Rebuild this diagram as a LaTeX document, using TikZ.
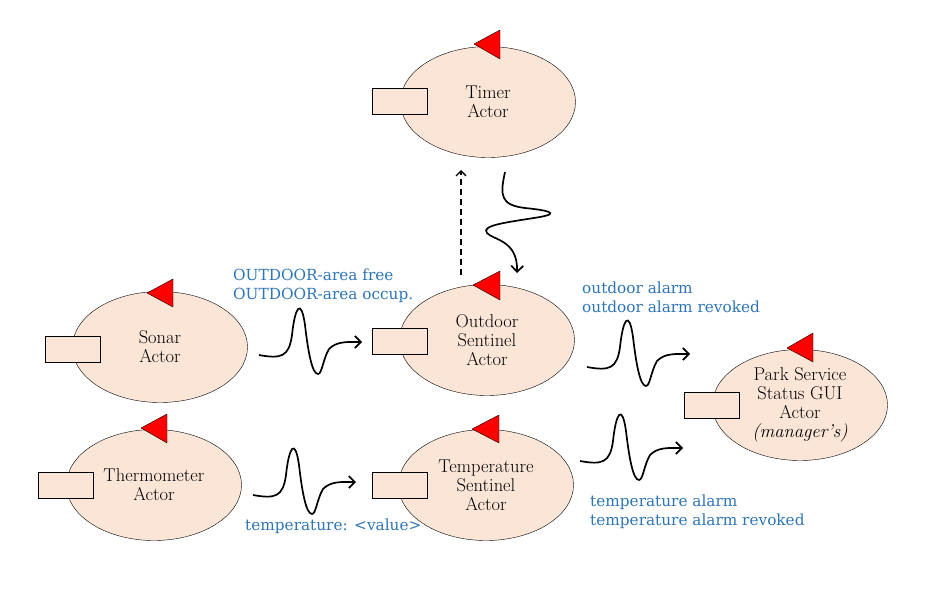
\documentclass[tikz,border=0pt]{standalone}
\usepackage{fontspec}
\newfontfamily\lblfont{DejaVu Serif}
\usetikzlibrary{shapes.geometric,arrows.meta}
\definecolor{actorfill}{HTML}{FAE5D7}
\definecolor{lblblue}{HTML}{2E75B6}
\tikzset{
 actor/.style={ellipse,draw=black,fill=actorfill,minimum width=175pt,minimum height=111pt,inner sep=0pt,align=center,font=\fontsize{18.5}{19}\selectfont},
 port/.style={draw=black,fill=actorfill,minimum width=55pt,minimum height=26pt,inner sep=0pt},
 flag/.style={draw=black,fill=red,line join=miter},
 lbl/.style={anchor=north west,align=left,text=lblblue,font=\lblfont\fontsize{15.3}{19}\selectfont,inner sep=0pt},
 wave/.style={line width=1.7pt,-{Straight Barb[length=6pt,width=12pt]}},
 wavepic/.pic={\draw[wave] (0,0) .. controls (22,4) and (30,2) .. (33,-20) .. controls (36,-48) and (42,-58) .. (46,-30) .. controls (49,-4) and (53,19) .. (59,19) .. controls (63,19) and (64,4) .. (70,-6) .. controls (78,-14) and (88,-13) .. (103,-13);},
}
\begin{document}
\begin{tikzpicture}[x=1pt,y=-1pt]
\useasboundingbox (0,0) rectangle (934,589);
% actors
\node[actor] (timer) at (488,102) {Timer\\Actor};
\node[actor] (sonar) at (160,347) {Sonar\\Actor};
\node[actor] (outdoor) at (487,340) {Outdoor\\Sentinel\\Actor};
\node[actor] (thermo) at (154,485) {Thermometer\\Actor};
\node[actor] (tempsent) at (486,485) {Temperature\\Sentinel\\Actor};
\node[actor] (park) at (800,405) {Park Service\\Status GUI\\Actor\\\textit{(manager’s)}};
% ports
\node[port] (timerp) at (399.5,101) {};
\node[port] (sonarp) at (73,349.5) {};
\node[port] (outdoorp) at (399.5,341.5) {};
\node[port] (thermop) at (66,485) {};
\node[port] (tempsentp) at (399.5,485) {};
\node[port] (parkp) at (712,405) {};
% flags
\draw[flag] (474,44) -- (500,30) -- (500,59) -- cycle;
\draw[flag] (147,293) -- (173,279) -- (173,307) -- cycle;
\draw[flag] (473,285) -- (500,271) -- (500,300) -- cycle;
\draw[flag] (141,428) -- (167,414) -- (167,443) -- cycle;
\draw[flag] (472,429) -- (499,415) -- (499,443) -- cycle;
\draw[flag] (787,348) -- (813,333) -- (813,362) -- cycle;
% waves
\coordinate (w1) at (259,355);
\coordinate (w2) at (253,495);
\coordinate (w3) at (587,367);
\coordinate (w4) at (580,461);
\pic at (w1) {wavepic};
\pic at (w2) {wavepic};
\pic at (w3) {wavepic};
\pic at (w4) {wavepic};
% timer -> outdoor wave
\coordinate (tws) at (505,172);
\coordinate (twe) at (517,273);
\draw[wave] (tws) .. controls (500,195) and (500,205) .. (525,208) .. controls (545,210) and (562,213) .. (540,217) .. controls (510,222) and (480,225) .. (487,233) .. controls (493,240) and (518,240) .. (twe);
% dashed
\coordinate (ds) at (461,275);
\coordinate (de) at (461,170);
\draw[line width=1.3pt,dash pattern=on 6pt off 4pt,-{Straight Barb[length=5pt,width=10pt]}] (ds) -- (de);
% labels
\node[lbl] (l1) at (233,269) {OUTDOOR-area free\\OUTDOOR-area occup.};
\node[lbl] (l2) at (582,282) {outdoor alarm\\outdoor alarm revoked};
\node[lbl] (l3) at (245,519) {temperature: <value>};
\node[lbl] (l4) at (590,495) {temperature alarm\\temperature alarm revoked};
\end{tikzpicture}
\end{document}
